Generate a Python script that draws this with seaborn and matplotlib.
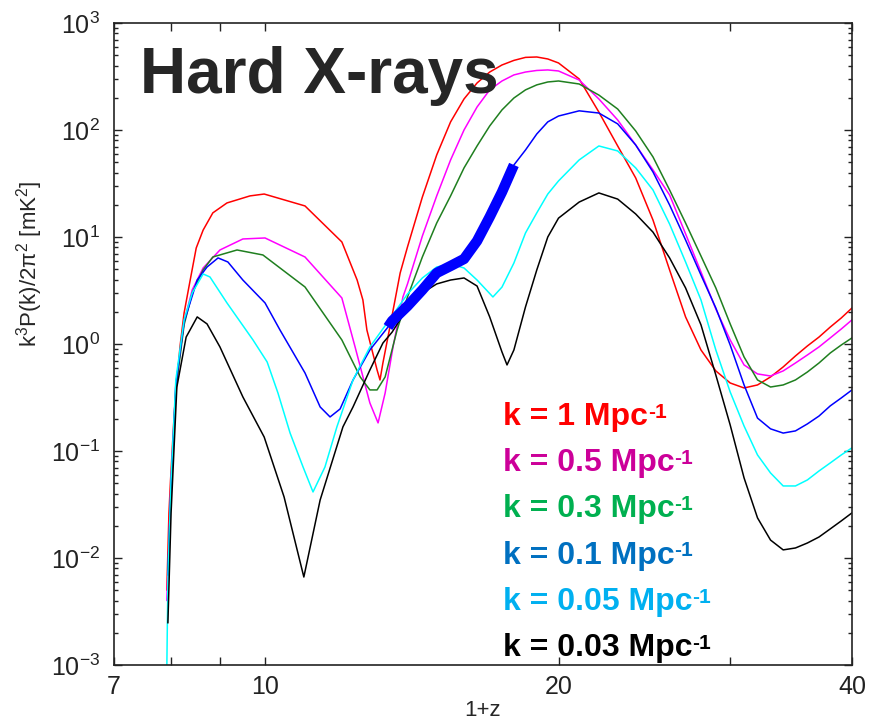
import matplotlib
matplotlib.use('Agg')
import matplotlib.pyplot as plt
from matplotlib.ticker import (FixedLocator, FixedFormatter, LogLocator,
                               NullLocator, NullFormatter)
import seaborn as sns
import numpy as np
import pandas as pd

k_labels = ['1', '0.5', '0.3', '0.1', '0.05', '0.03']
line_colors = ['#ff0000', '#ff00ff', '#1f7f1f', '#0000ff', '#00ffff', '#000000']
text_colors = ['#ff0000', '#cc0099', '#00b050', '#0070c0', '#00b0f0', '#000000']

# 1+z and k^3 P(k) / 2pi^2 [mK^2]
z_k1 = [7.93, 7.97, 8.00, 8.07, 8.18, 8.26, 8.38, 8.50, 8.64, 8.84,
        9.14, 9.65, 9.98, 10.99, 11.99, 12.43, 12.60, 12.72, 13.03, 13.12,
        13.21, 13.43, 13.76, 14, 14.5, 15, 15.5, 16, 16.5, 17,
        17.5, 18, 18.5, 19, 19.5, 20, 21, 22, 23, 24,
        25, 26, 27, 28, 29, 30, 31, 32, 33, 34,
        35, 36, 37, 38, 39, 40]
pk_k1 = [0.0050, 0.0264, 0.0536, 0.226, 0.938, 1.95, 3.96, 7.89, 11.6, 16.8,
         20.8, 24.2, 25.2, 19.5, 8.98, 3.96, 2.58, 1.35, 0.571, 0.461,
         0.664, 1.44, 4.61, 8.07, 23.6, 58.4, 119, 195, 275, 348,
         405, 447, 477, 481, 461, 423, 300, 147, 70.9, 35.6,
         14.4, 4.92, 1.79, 0.879, 0.560, 0.432, 0.388, 0.414, 0.492, 0.610,
         0.773, 0.958, 1.16, 1.44, 1.75, 2.17]

z_k05 = [7.93, 8.01, 8.10, 8.26, 8.42, 8.64, 8.99, 9.49, 10.0, 10.99,
         11.99, 12.37, 12.81, 13.06, 13.28, 13.53, 13.85, 14, 14.5, 15,
         15.5, 16, 16.5, 17, 17.5, 18, 18.5, 19, 19.5, 20,
         21, 22, 23, 24, 25, 26, 27, 28, 29, 30,
         31, 32, 33, 34, 35, 36, 37, 38, 39, 40]
pk_k05 = [0.0040, 0.0536, 0.414, 1.61, 3.20, 5.13, 7.56, 9.58, 9.79, 6.50,
          2.69, 0.938, 0.281, 0.183, 0.348, 0.938, 2.75, 3.64, 10.2, 24.2,
          52.5, 100, 164, 237, 287, 327, 348, 360, 364, 356,
          293, 195, 124, 72.4, 42.3, 24.7, 10.7, 4.71, 2.12, 1.09,
          0.637, 0.525, 0.502, 0.560, 0.664, 0.789, 0.938, 1.14, 1.38, 1.68]

z_k03 = [7.95, 8.01, 8.10, 8.26, 8.42, 8.64, 8.84, 9.36, 9.95, 10.99,
         11.99, 12.52, 12.81, 13.03, 13.28, 13.66, 14, 14.5, 15, 15.5,
         16, 16.5, 17, 17.5, 18, 18.5, 19, 19.5, 20, 21,
         22, 23, 24, 25, 26, 27, 28, 29, 30, 31,
         32, 33, 34, 35, 36, 37, 38, 39, 40]
pk_k03 = [0.0077, 0.0432, 0.372, 1.51, 3.00, 4.92, 6.50, 7.56, 6.79, 3.41,
          1.09, 0.492, 0.372, 0.372, 0.492, 1.35, 2.75, 6.50, 13.5, 24.2,
          44.2, 70.9, 109, 154, 199, 237, 264, 281, 287, 269,
          212, 157, 97.9, 56.0, 27.5, 13.5, 6.64, 3.34, 1.54, 0.756,
          0.461, 0.396, 0.414, 0.461, 0.547, 0.664, 0.824, 0.978, 1.14]

z_k01 = [7.95, 8.01, 8.10, 8.26, 8.52, 8.72, 8.95, 9.16, 9.49, 10.0,
         10.36, 10.99, 11.39, 11.66, 11.94, 12.31, 12.81, 13.37, 13.5, 14,
         14.5, 15, 15.5, 16, 16.5, 17, 17.5, 18, 18.5, 19,
         19.5, 20, 21, 22, 23, 24, 25, 26, 27, 28,
         29, 30, 31, 32, 33, 34, 35, 36, 37, 38,
         39, 40]
pk_k01 = [0.0069, 0.0481, 0.414, 1.61, 3.96, 5.24, 6.37, 5.84, 3.96, 2.42,
          1.35, 0.536, 0.258, 0.208, 0.247, 0.461, 0.879, 1.44, 1.64, 2.26,
          3.20, 4.61, 5.36, 6.23, 9.18, 15.4, 26.3, 47.1, 65.0, 91.8,
          119, 135, 151, 144, 114, 72.4, 40.5, 19.9, 9.38, 4.41,
          2.17, 0.978, 0.414, 0.203, 0.161, 0.147, 0.154, 0.179, 0.212, 0.264,
          0.313, 0.372]

z_k005 = [7.93, 7.95, 8.01, 8.10, 8.26, 8.42, 8.64, 8.78, 9.14, 9.72,
          10.05, 10.31, 10.61, 10.94, 11.20, 11.52, 11.85, 12.31, 12.81, 13.34,
          13.5, 14, 14.5, 15, 15.5, 16, 16.5, 17.13, 17.5, 18,
          18.5, 19, 19.5, 20, 21, 22, 23, 24, 25, 26,
          27, 28, 29, 30, 31, 32, 33, 34, 35, 36,
          37, 38, 39, 40]
pk_k005 = [0.00094, 0.0062, 0.0536, 0.461, 1.68, 3.00, 4.51, 4.23, 2.42, 1.09,
           0.679, 0.348, 0.147, 0.0708, 0.0414, 0.0708, 0.168, 0.461, 0.938, 1.57,
           1.83, 2.93, 4.14, 5.24, 5.59, 5.13, 3.96, 2.75, 3.40, 5.71,
           10.9, 16.8, 25.2, 33.4, 52.5, 70.9, 63.7, 44.2, 27.5, 13.2,
           5.84, 2.58, 0.879, 0.356, 0.171, 0.0918, 0.0623, 0.0471, 0.0471, 0.0536,
           0.0650, 0.0773, 0.0918, 0.107]

z_k003 = [7.95, 8.01, 8.12, 8.30, 8.52, 8.72, 8.99, 9.49, 9.98, 10.46,
          10.96, 11.39, 12.02, 12.31, 12.81, 13.21, 13.5, 14, 14.5, 15,
          15.5, 16, 16.5, 17, 17.5, 17.71, 18, 18.5, 19, 19.5,
          20, 21, 22, 23, 24, 25, 26, 27, 28, 29,
          30, 31, 32, 33, 34, 35, 36, 37, 38, 39,
          40]
pk_k003 = [0.00247, 0.0264, 0.396, 1.16, 1.79, 1.54, 0.938, 0.320, 0.135, 0.0372,
           0.00664, 0.0348, 0.168, 0.258, 0.571, 1.02, 1.29, 2.17, 3.00, 3.64,
           3.96, 4.14, 3.48, 1.79, 0.842, 0.637, 0.879, 2.22, 4.92, 10.0,
           15.0, 21.2, 25.8, 22.6, 16.4, 11.1, 6.37, 3.34, 1.51, 0.513,
           0.175, 0.0560, 0.0237, 0.0147, 0.0119, 0.0124, 0.0138, 0.0157, 0.0187, 0.0222,
           0.0264]

# stretch of the k = 0.1 curve that is drawn thick
highlight_range = (13.3, 18.0)

x_ticks = [7, 8, 9, 10, 20, 30, 40]
x_tick_labels = ['7', '', '', '10', '20', '', '40']


def build_frame():
    curves = [(z_k1, pk_k1), (z_k05, pk_k05), (z_k03, pk_k03),
              (z_k01, pk_k01), (z_k005, pk_k005), (z_k003, pk_k003)]
    parts = []
    for label, (z, pk) in zip(k_labels, curves):
        parts.append(pd.DataFrame({'z': z, 'pk': pk, 'k': label}))
    return pd.concat(parts, ignore_index=True)


def main():
    sns.set_style('ticks')
    plt.rcParams['font.family'] = ['Liberation Sans', 'DejaVu Sans']
    plt.rcParams['mathtext.fontset'] = 'custom'
    plt.rcParams['mathtext.rm'] = 'Liberation Sans'
    plt.rcParams['mathtext.it'] = 'Liberation Sans:italic'
    plt.rcParams['mathtext.bf'] = 'Liberation Sans:bold'

    df = build_frame()

    fig = plt.figure(figsize=(8.75, 7.25), dpi=100)
    ax = fig.add_axes([0.1303, 0.0828, 0.8434, 0.8855])

    sns.lineplot(data=df, x='z', y='pk', hue='k', hue_order=k_labels,
                 palette=dict(zip(k_labels, line_colors)), estimator=None,
                 sort=False, lw=1.1, legend=False, ax=ax)

    blue = df[(df['k'] == '0.1') & (df['z'] >= highlight_range[0]) &
              (df['z'] <= highlight_range[1])]
    sns.lineplot(data=blue, x='z', y='pk', color='#0000ff', lw=7.5,
                 estimator=None, sort=False, legend=False, ax=ax,
                 solid_capstyle='butt')

    ax.set(xscale='log', yscale='log', xlim=(7, 40), ylim=(1e-3, 1e3))
    ax.xaxis.set_major_locator(FixedLocator(x_ticks))
    ax.xaxis.set_major_formatter(FixedFormatter(x_tick_labels))
    ax.xaxis.set_minor_locator(NullLocator())
    ax.yaxis.set_major_locator(LogLocator(base=10, numticks=10))
    ax.yaxis.set_minor_locator(LogLocator(base=10, subs=np.arange(2, 10),
                                          numticks=20))
    ax.yaxis.set_minor_formatter(NullFormatter())

    ax.tick_params(which='both', direction='in', top=True, right=True,
                   width=1.0, color='#222222', labelcolor='#222222')
    ax.tick_params(axis='x', which='major', length=6, labelsize=18, pad=7)
    ax.tick_params(axis='y', which='major', length=5.5, labelsize=18, pad=10)
    ax.tick_params(axis='y', which='minor', length=3)
    for spine in ax.spines.values():
        spine.set_linewidth(1.2)
        spine.set_color('#222222')

    ax.set_xlabel('1+z', fontsize=16, labelpad=1)
    ax.set_ylabel('k$^3$P(k)/2π$^2$ [mK$^2$]', fontsize=16)
    ax.yaxis.set_label_coords(-0.0935, 0.625)

    ax.text(0.035, 0.891, 'Hard X-rays', transform=ax.transAxes,
            fontsize=46, fontweight='bold', ha='left', va='baseline')

    for i, (label, color) in enumerate(zip(k_labels, text_colors)):
        t = ax.text(0.527, 0.374 - 0.072 * i, 'k = ' + label + ' Mpc',
                    transform=ax.transAxes, fontsize=23, fontweight='bold',
                    color=color, ha='left', va='baseline')
        ax.annotate('-1', xy=(1.0, 0.97), xycoords=t, xytext=(0, 0),
                    textcoords='offset points', fontsize=15,
                    fontweight='bold', color=color, ha='left', va='top')

    fig.savefig('out.png', dpi=100)


if __name__ == '__main__':
    main()
